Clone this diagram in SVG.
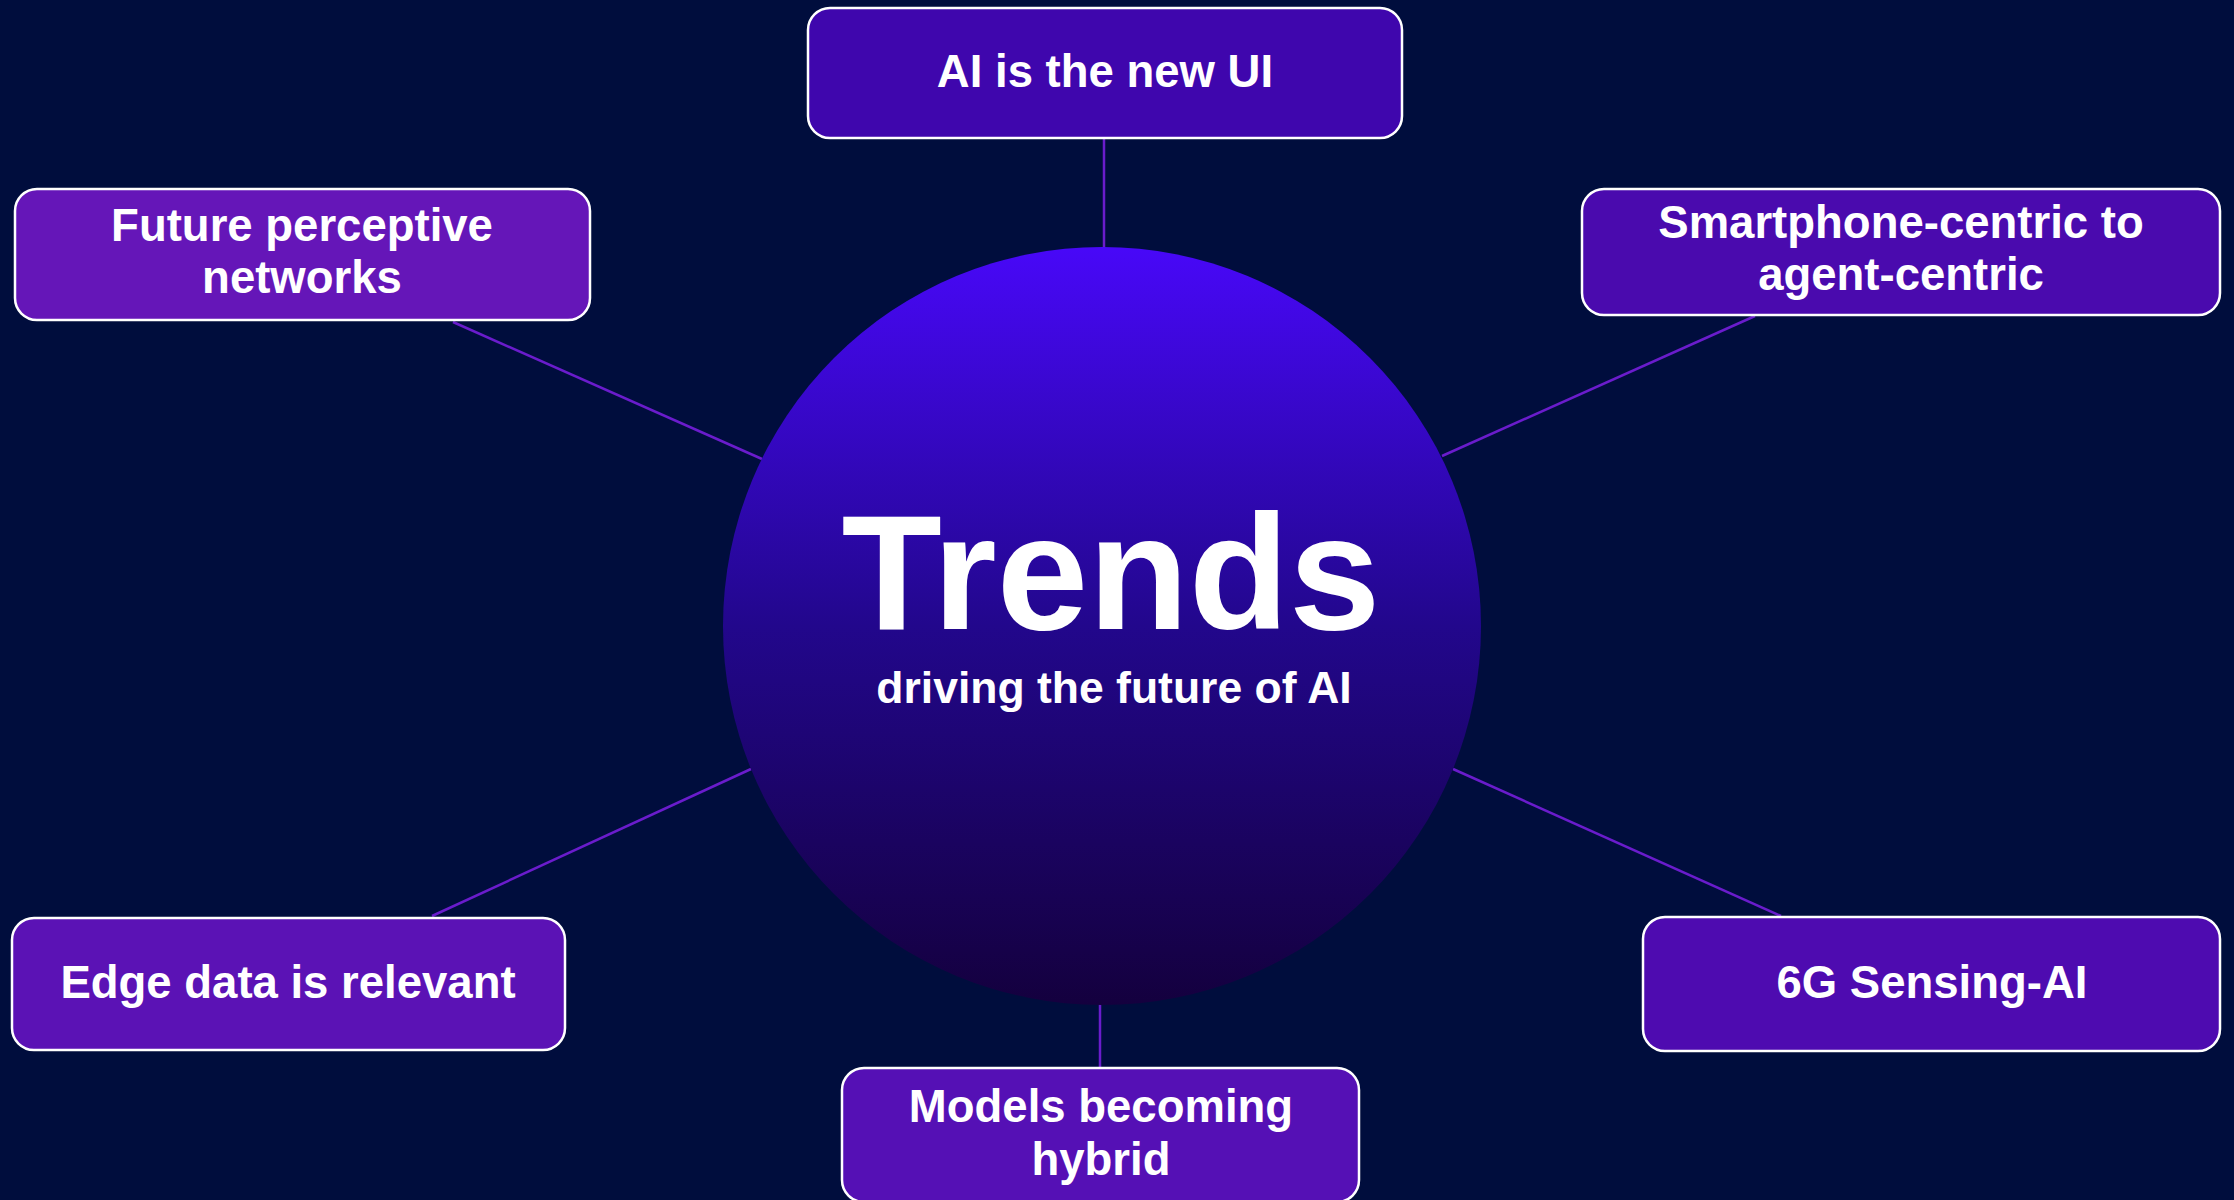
<svg xmlns="http://www.w3.org/2000/svg" width="2234" height="1200" viewBox="0 0 2234 1200">
  <defs>
    <linearGradient id="hubGrad" x1="0" y1="0" x2="0" y2="1">
      <stop offset="0" stop-color="#4808f8"/>
      <stop offset="0.5" stop-color="#22078c"/>
      <stop offset="1" stop-color="#14003e"/>
    </linearGradient>
    <style>
      .box { stroke: #ffffff; stroke-width: 2.5; }
      .lbl { font-family: "Liberation Sans", Arial, sans-serif; font-weight: bold; font-size: 45.5px; fill: #ffffff; text-anchor: middle; }
      .conn { stroke: #6a1ccc; stroke-width: 2.5; fill: none; }
    </style>
  </defs>
  <rect width="2234" height="1200" fill="#000d3d"/>

  <g id="connectors">
    <line class="conn" x1="1104" y1="138" x2="1104" y2="248"/>
    <line class="conn" x1="453" y1="322" x2="762" y2="459"/>
    <line class="conn" x1="1755" y1="316" x2="1442" y2="456"/>
    <line class="conn" x1="432" y1="916" x2="751" y2="769"/>
    <line class="conn" x1="1781" y1="916" x2="1453" y2="769"/>
    <line class="conn" x1="1100" y1="1004" x2="1100" y2="1068"/>
  </g>

  <g id="hub">
    <circle cx="1102" cy="626" r="379" fill="url(#hubGrad)"/>
    <text x="1111" y="629" font-family="Liberation Sans, Arial, sans-serif" font-weight="bold" font-size="164" fill="#ffffff" text-anchor="middle" textLength="539" lengthAdjust="spacingAndGlyphs">Trends</text>
    <text x="1114" y="703" font-family="Liberation Sans, Arial, sans-serif" font-weight="bold" font-size="44.5" fill="#ffffff" text-anchor="middle">driving the future of AI</text>
  </g>

  <g id="node-ai-ui">
    <rect class="box" x="808" y="8" width="594" height="130" rx="22" fill="#3f06ad"/>
    <text class="lbl" x="1105" y="87">AI is the new UI</text>
  </g>

  <g id="node-perceptive">
    <rect class="box" x="15" y="189" width="575" height="131" rx="22" fill="#6516b8"/>
    <text class="lbl" x="302" y="241">Future perceptive</text>
    <text class="lbl" x="302" y="293">networks</text>
  </g>

  <g id="node-agent">
    <rect class="box" x="1582" y="189" width="638" height="126" rx="22" fill="#4a0aae"/>
    <text class="lbl" x="1901" y="238">Smartphone-centric to</text>
    <text class="lbl" x="1901" y="290">agent-centric</text>
  </g>

  <g id="node-edge">
    <rect class="box" x="12" y="918" width="553" height="132" rx="22" fill="#5b12b5"/>
    <text class="lbl" x="288" y="998">Edge data is relevant</text>
  </g>

  <g id="node-6g">
    <rect class="box" x="1643" y="917" width="577" height="134" rx="22" fill="#4e0bb0"/>
    <text class="lbl" x="1932" y="998">6G Sensing-AI</text>
  </g>

  <g id="node-hybrid">
    <rect class="box" x="842" y="1068" width="517" height="134" rx="22" fill="#5510b5"/>
    <text class="lbl" x="1101" y="1122">Models becoming</text>
    <text class="lbl" x="1101" y="1175">hybrid</text>
  </g>
</svg>
